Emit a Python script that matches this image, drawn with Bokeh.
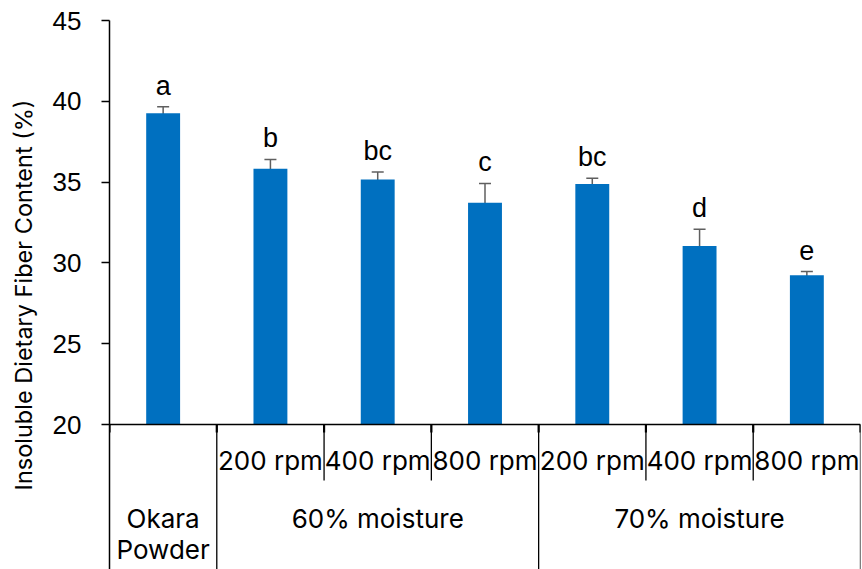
from bokeh.plotting import figure
from bokeh.models import Range1d, FixedTicker, Whisker, TeeHead, ColumnDataSource, Span
from bokeh.core.properties import value
from bokeh.embed import file_html
from bokeh.resources import INLINE

# ---- data ----
sub_labels = ["", "200 rpm", "400 rpm", "800 rpm", "200 rpm", "400 rpm", "800 rpm"]
group_labels = ["Okara\nPowder", "60% moisture", "70% moisture"]
group_sizes = [1, 3, 3]
means = [39.26, 35.82, 35.16, 33.72, 34.89, 31.04, 29.24]
errors = [0.40, 0.58, 0.47, 1.20, 0.35, 1.05, 0.23]
letters = ["a", "b", "bc", "c", "bc", "d", "e"]
y_ticks = [20, 25, 30, 35, 40, 45]

# ---- layout constants ----
W, H = 862, 569
TOP, LEFT, RIGHT = 20, 109, 2
FRAME_H = H - TOP
Y_BASE, Y_MAX = 20, 45
PX_PER_UNIT = 404 / (Y_MAX - Y_BASE)
Y_MIN = Y_MAX - FRAME_H / PX_PER_UNIT


def below(px):
    """data y for a point px pixels below the category axis line"""
    return Y_BASE - px / PX_PER_UNIT


n = len(means)
xs = [i + 0.5 for i in range(n)]
upper = [m + e for m, e in zip(means, errors)]
lower = [m - e for m, e in zip(means, errors)]
letter_y = [u + 21 / PX_PER_UNIT for u in upper]
src = ColumnDataSource(dict(x=xs, top=means, upper=upper, lower=lower,
                            letter=letters, ly=letter_y))

p = figure(width=W, height=H, x_range=Range1d(0, n), y_range=Range1d(Y_MIN, Y_MAX),
           x_axis_type=None, output_backend="svg", toolbar_location=None,
           min_border_top=TOP, min_border_left=LEFT, min_border_right=RIGHT,
           min_border_bottom=0)
p.outline_line_color = None
p.ygrid.grid_line_color = None
p.background_fill_color = "white"
p.border_fill_color = "white"

# bars
p.vbar(x="x", top="top", bottom=Y_BASE, width=0.316, source=src,
       fill_color="#0070C0", line_color=None)

# error bars
err_col = "#5f5f5f"
p.add_layout(Whisker(source=src, base="x", upper="upper", lower="lower",
                     line_color=err_col, line_width=1.5,
                     upper_head=TeeHead(size=12, line_color=err_col, line_width=1.5),
                     lower_head=TeeHead(size=12, line_color=err_col, line_width=1.5)))

# significance letters
p.text(x="x", y="ly", text="letter", source=src, text_align="center",
       text_baseline="alphabetic",
       text_font=value("Liberation Sans"), text_font_size="27px", text_color="black")

# y axis
ax = p.yaxis[0]
ax.ticker = FixedTicker(ticks=y_ticks)
ax.minor_tick_line_color = None
ax.major_tick_in = 0
ax.major_tick_out = 8
ax.major_tick_line_width = 1.5
ax.axis_line_width = 1.5
ax.axis_line_color = "black"
ax.major_tick_line_color = "black"
ax.major_label_text_font = "Liberation Sans"
ax.major_label_text_font_size = "26px"
ax.major_label_text_color = "black"
ax.major_label_standoff = 20
ax.axis_label = "Insoluble Dietary Fiber Content (%)"
ax.axis_label_text_font = "Inter"
ax.axis_label_text_font_size = "23.5px"
ax.axis_label_text_font_style = "normal"
ax.axis_label_text_color = "black"
ax.axis_label_standoff = 12

# category axis line
p.add_layout(Span(location=Y_BASE, dimension="width", line_color="black", line_width=1.5))

# category separators
bounds = [0]
for s in group_sizes:
    bounds.append(bounds[-1] + s)
group_bounds = bounds[1:]
sub_bounds = []
for g, s in enumerate(group_sizes):
    if s > 1:
        sub_bounds += [bounds[g] + k for k in range(1, s)]

p.segment(x0=group_bounds, y0=[Y_BASE] * len(group_bounds),
          x1=group_bounds, y1=[Y_MIN] * len(group_bounds),
          line_color="black", line_width=1.3)
p.segment(x0=sub_bounds, y0=[Y_BASE] * len(sub_bounds),
          x1=sub_bounds, y1=[below(56)] * len(sub_bounds),
          line_color="black", line_width=1.3)
all_b = list(range(n + 1))
p.segment(x0=all_b, y0=[Y_BASE] * len(all_b), x1=all_b, y1=[below(8)] * len(all_b),
          line_color="black", line_width=2.2)

# sub-category labels
p.text(x=xs, y=[below(36)] * n, text=sub_labels, text_align="center",
       text_baseline="alphabetic", text_font=value("Inter"), text_font_size="26px",
       text_color="black")

# group labels (multi-line split)
gx, gy, gt = [], [], []
for g, lab in enumerate(group_labels):
    cx = (bounds[g] + bounds[g + 1]) / 2
    for k, line in enumerate(lab.split("\n")):
        gx.append(cx)
        gy.append(below(94 + 31 * k))
        gt.append(line)
p.text(x=gx, y=gy, text=gt, text_align="center", text_baseline="alphabetic",
       text_font=value("Inter"), text_font_size="26px", text_color="black")

open("out.html", "w").write(file_html(p, INLINE))
